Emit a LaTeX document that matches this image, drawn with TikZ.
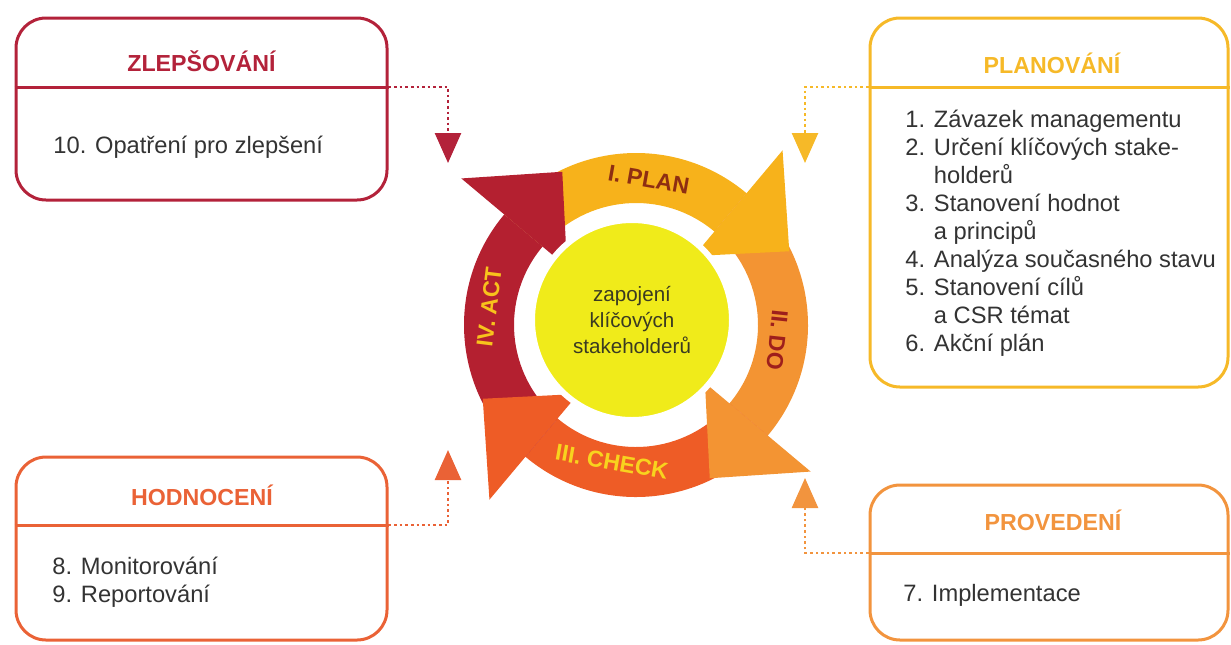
\documentclass[tikz,border=0pt]{standalone}
\usepackage{fontspec}
\setmainfont{Liberation Sans}
\usepackage{tikz}
\usetikzlibrary{arrows.meta,calc}
\definecolor{zlepred}{HTML}{B3223A}
\definecolor{planyel}{HTML}{F6B928}
\definecolor{hodnred}{HTML}{EA6236}
\definecolor{provorange}{HTML}{F2943E}
\definecolor{bodygrey}{HTML}{333333}
\definecolor{planfill}{HTML}{F7B21B}
\definecolor{dofill}{HTML}{F39433}
\definecolor{checkfill}{HTML}{EE5C26}
\definecolor{actfill}{HTML}{B42030}
\definecolor{coreyellow}{HTML}{F0EB1A}
\definecolor{coretext}{HTML}{3A3A22}
\definecolor{planlbl}{HTML}{8E2E12}
\definecolor{dolbl}{HTML}{9E1F1C}
\definecolor{checklbl}{HTML}{F8D31E}
\definecolor{actlbl}{HTML}{F8C31C}
\newcommand{\pdcaband}[3]{\fill[#1] (#2:172) arc[start angle=#2,end angle=#3,radius=172] -- (#3:122)
  arc[start angle=#3,end angle=#2,radius=122] -- cycle;}
\newcommand{\pdcahead}[2]{\fill[#1] (#2:228) -- ($(#2:155)+(#2-90:70)$) -- (#2:90) -- cycle;}

\begin{document}
\begin{tikzpicture}[x=0.5pt,y=-0.5pt,
  panel/.style={draw=#1,line width=1.5pt,rounded corners=15pt,inner sep=0pt},
  divider/.style={draw=#1,line width=1.5pt},
  ttl/.style={text=#1,font=\fontsize{11.6}{14}\selectfont\bfseries,inner sep=0pt},
  body/.style={text=bodygrey,font=\fontsize{11.85}{14}\selectfont,inner sep=0pt,align=left},
  link/.style={draw=#1,line width=1.3pt,dash pattern=on 1.3pt off 1.5pt,-{Triangle[width=13pt,length=15pt]}},
  lbl/.style={text=#1,font=\fontsize{11.5}{13}\selectfont\bfseries,inner sep=0pt},
  core/.style={circle,fill=coreyellow,draw=white,line width=3pt,minimum size=100pt,inner sep=0pt,align=center,
    text=coretext,font=\fontsize{10.3}{13}\selectfont}]
  \useasboundingbox (0,0) rectangle (1231,644);
  \node[panel=zlepred,minimum width=185.5pt,minimum height=91pt] (zlep) at (201.5,109) {};
  \coordinate (zlepdiv) at (zlep.east |- 0,87);
  \draw[divider=zlepred] (zlep.west |- zlepdiv) -- (zlepdiv);
  \node[ttl=zlepred] (zlepttl) at (201.5,61) {ZLEPŠOVÁNÍ};
  \node[body,anchor=west] (zlepbody) at (53,147) {10. Opatření pro zlepšení};
  \node[panel=planyel,minimum width=179pt,minimum height=184.5pt] (plan) at (1049,202.5) {};
  \coordinate (plandiv) at (plan.west |- 0,87);
  \draw[divider=planyel] (plandiv) -- (plan.east |- plandiv);
  \node[ttl=planyel] (planttl) at (1052,63) {PLANOVÁNÍ};
  \node[body,anchor=north west] (planbody) at (905,110) {1. Závazek managementu\\2. Určení klíčových stake-\\
    \phantom{2. }holderů\\3. Stanovení hodnot\\\phantom{3. }a principů\\4. Analýza současného stavu\\
    5. Stanovení cílů\\\phantom{5. }a CSR témat\\6. Akční plán};
  \node[panel=hodnred,minimum width=185.5pt,minimum height=91.5pt] (hodn) at (201.5,548.5) {};
  \coordinate (hodndiv) at (hodn.east |- 0,525);
  \draw[divider=hodnred] (hodn.west |- hodndiv) -- (hodndiv);
  \node[ttl=hodnred] (hodnttl) at (202,495) {HODNOCENÍ};
  \node[body,anchor=north west] (hodnbody) at (52,557) {8. Monitorování\\9. Reportování};
  \node[panel=provorange,minimum width=179pt,minimum height=77.5pt] (prov) at (1049,562.5) {};
  \coordinate (provdiv) at (prov.west |- 0,553);
  \draw[divider=provorange] (provdiv) -- (prov.east |- provdiv);
  \node[ttl=provorange] (provttl) at (1053,520) {PROVEDENÍ};
  \node[body,anchor=west] (provbody) at (903,595) {7. Implementace};
  \coordinate (zlepin) at (448,163);
  \coordinate (planin) at (805,163);
  \coordinate (hodnin) at (448,450);
  \coordinate (provin) at (805,478);
  \draw[link=zlepred] (zlepdiv) -| (zlepin);
  \draw[link=planyel] (plandiv) -| (planin);
  \draw[link=hodnred] (hodndiv) -| (hodnin);
  \draw[link=provorange] (provdiv) -| (provin);
  \begin{scope}[shift={(636,325)},y=0.5pt]
    \pdcaband{planfill}{140}{50}
    \pdcaband{dofill}{50}{-40}
    \pdcaband{checkfill}{-40}{-130}
    \pdcaband{actfill}{230}{140}
    \pdcahead{planfill}{50}
    \pdcahead{dofill}{-40}
    \pdcahead{checkfill}{-130}
    \pdcahead{actfill}{140}
    \node[core] (core) at (-4,5) {zapojení\\klíčových\\stakeholderů};
    \node[lbl=planlbl,rotate=-10] (planlbl) at (85:146) {I. PLAN};
    \node[lbl=dolbl,rotate=-96] (dolbl) at (-6:142) {II. DO};
    \node[lbl=checklbl,rotate=-10] (checklbl) at (260:139) {III. CHECK};
    \node[lbl=actlbl,rotate=83] (actlbl) at (173:148) {IV. ACT};
  \end{scope}
\end{tikzpicture}
\end{document}
